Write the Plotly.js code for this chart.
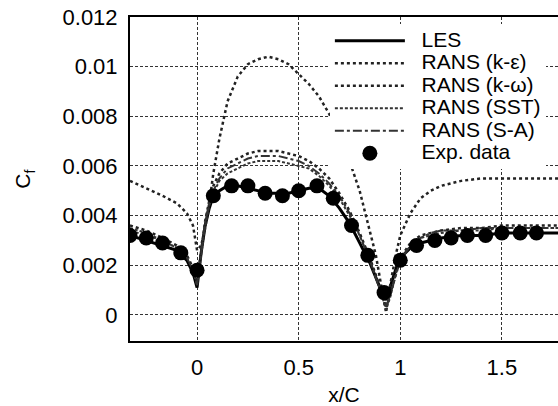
<!DOCTYPE html>
<html>
<head>
<meta charset="utf-8">
<script src="https://cdn.plot.ly/plotly-3.0.1.min.js"></script>
<style>html,body{margin:0;padding:0;background:#fff;}#chart{width:558px;height:406px;}</style>
</head>
<body>
<div id="chart"></div>
<script>
// x/C stations shared by all computed curves
const xs = [-0.33,-0.25,-0.17,-0.1,-0.05,-0.02,0,0.02,0.04,0.06,0.08,0.11,0.15,0.2,0.25,0.3,0.35,0.4,0.45,0.5,0.55,0.6,0.65,0.7,0.75,0.8,0.85,0.88,0.91,0.93,0.95,0.98,1.0,1.05,1.1,1.15,1.2,1.3,1.4,1.5,1.6,1.7,1.78];

const les = [0.0032,0.0030,0.0028,0.0026,0.0022,0.0017,0.0011,0.0025,0.0036,0.0043,0.0048,0.0050,0.0052,0.0052,0.0051,0.0050,0.0049,0.0049,0.0049,0.0050,0.0051,0.0051,0.0048,0.0043,0.0037,0.0029,0.0021,0.0015,0.0009,0.0006,0.0011,0.0019,0.0023,0.0027,0.0029,0.0030,0.0031,0.0032,0.0032,0.0033,0.0033,0.0033,0.0033];

const kEps = [0.0036,0.0034,0.0031,0.0028,0.0024,0.0019,0.0013,0.0026,0.0038,0.0046,0.0052,0.0057,0.0061,0.0063,0.0065,0.0066,0.0066,0.0066,0.0065,0.0064,0.0062,0.0059,0.0055,0.0049,0.0042,0.0033,0.0023,0.0016,0.0008,0.0003,0.0008,0.0018,0.0023,0.0029,0.0032,0.0033,0.0034,0.0035,0.0035,0.0036,0.0036,0.0036,0.0036];

const kOmega = [0.0054,0.0051,0.0048,0.0045,0.0041,0.0036,0.0026,0.0028,0.0035,0.0045,0.0057,0.0071,0.0086,0.0096,0.0101,0.0103,0.0104,0.0103,0.0101,0.0097,0.0093,0.0088,0.0081,0.0072,0.0062,0.0050,0.0034,0.0024,0.0010,0.0001,0.0012,0.0025,0.0032,0.0041,0.0047,0.0050,0.0052,0.0054,0.0055,0.0055,0.0055,0.0055,0.0055];

const sst = [0.0035,0.0033,0.0030,0.0027,0.0023,0.0018,0.0012,0.0024,0.0036,0.0044,0.0049,0.0054,0.0057,0.0059,0.0061,0.0062,0.0062,0.0062,0.0061,0.0060,0.0059,0.0056,0.0052,0.0047,0.0040,0.0032,0.0022,0.0015,0.0008,0.0002,0.0007,0.0017,0.0022,0.0028,0.0031,0.0032,0.0033,0.0034,0.0034,0.0035,0.0035,0.0035,0.0035];

const sa = [0.0034,0.0032,0.0030,0.0027,0.0023,0.0018,0.0012,0.0025,0.0037,0.0045,0.0050,0.0055,0.0059,0.0061,0.0063,0.0064,0.0064,0.0064,0.0063,0.0062,0.0060,0.0057,0.0053,0.0048,0.0041,0.0032,0.0022,0.0015,0.0008,0.0003,0.0008,0.0017,0.0022,0.0028,0.0031,0.0033,0.0034,0.0034,0.0035,0.0035,0.0035,0.0035,0.0035];

const expX = [-0.33,-0.25,-0.17,-0.08,0,0.08,0.17,0.25,0.335,0.42,0.5,0.59,0.67,0.76,0.84,0.92,1.0,1.08,1.17,1.25,1.33,1.42,1.5,1.59,1.67];
const expY = [0.0032,0.0031,0.0029,0.0025,0.0018,0.0048,0.0052,0.0052,0.0049,0.0048,0.0050,0.0052,0.0047,0.0036,0.0024,0.0009,0.0022,0.0028,0.0030,0.0031,0.0032,0.0032,0.0033,0.0033,0.0033];

const seriesNames = ['LES','RANS (k-ε)','RANS (k-ω)','RANS (SST)','RANS (S-A)','Exp. data'];
const xTickVals = [0,0.5,1,1.5];
const xTickText = ['0','0.5','1','1.5'];
const yTickVals = [0,0.002,0.004,0.006,0.008,0.01,0.012];
const yTickText = ['0','0.002','0.004','0.006','0.008','0.01','0.012'];

const big = s => '<span style="font-size:21px">\u00a0\u00a0' + s + '</span>';

const traces = [
  {x: xs, y: les, name: big(seriesNames[0]), mode: 'lines', line: {color: '#000', width: 3}},
  {x: xs, y: kEps, name: big(seriesNames[1]), mode: 'lines', line: {color: '#222', width: 2.5, dash: 'dot'}},
  {x: xs, y: kOmega, name: big(seriesNames[2]), mode: 'lines', line: {color: '#222', width: 2.5, dash: 'dot'}},
  {x: xs, y: sst, name: big(seriesNames[3]), mode: 'lines', line: {color: '#333', width: 2, dash: '3px,2px'}},
  {x: xs, y: sa, name: big(seriesNames[4]), mode: 'lines', line: {color: '#333', width: 2, dash: 'dashdot'}},
  {x: expX, y: expY, name: big(seriesNames[5]), mode: 'markers', marker: {color: '#000', size: 15, symbol: 'circle'}}
];

const layout = {
  width: 558, height: 406,
  margin: {l: 130, r: 0, t: 17, b: 65},
  paper_bgcolor: '#fff', plot_bgcolor: '#fff',
  font: {family: 'Liberation Sans, Arial, sans-serif', color: '#000', size: 22},
  showlegend: true,
  legend: {
    x: 0.467, y: 0.977, xanchor: 'left', yanchor: 'top',
    bgcolor: '#fff', borderwidth: 0,
    font: {size: 15, color: '#000'},
    itemwidth: 70,
    tracegroupgap: 0
  },
  xaxis: {
    range: [-0.33, 1.776],
    tickvals: xTickVals, ticktext: xTickText,
    ticks: '', showline: true, linecolor: '#000', linewidth: 2, mirror: true,
    showgrid: true, gridcolor: '#333', gridwidth: 1, griddash: '3px,2px',
    zeroline: false,
    tickfont: {size: 22},
    ticklabelstandoff: 6,
    title: {text: 'x/C', font: {size: 21}, standoff: 10}
  },
  yaxis: {
    range: [-0.00105, 0.012],
    tickvals: yTickVals, ticktext: yTickText,
    ticks: '', showline: true, linecolor: '#000', linewidth: 2, mirror: false,
    showgrid: true, gridcolor: '#333', gridwidth: 1, griddash: '3px,2px',
    zeroline: false,
    tickfont: {size: 22},
    ticklabelstandoff: 6,
    title: {text: 'C<sub>f</sub>', font: {size: 21}, standoff: 26}
  }
};

Plotly.newPlot('chart', traces, layout, {displayModeBar: false, staticPlot: true});
</script>
</body>
</html>
